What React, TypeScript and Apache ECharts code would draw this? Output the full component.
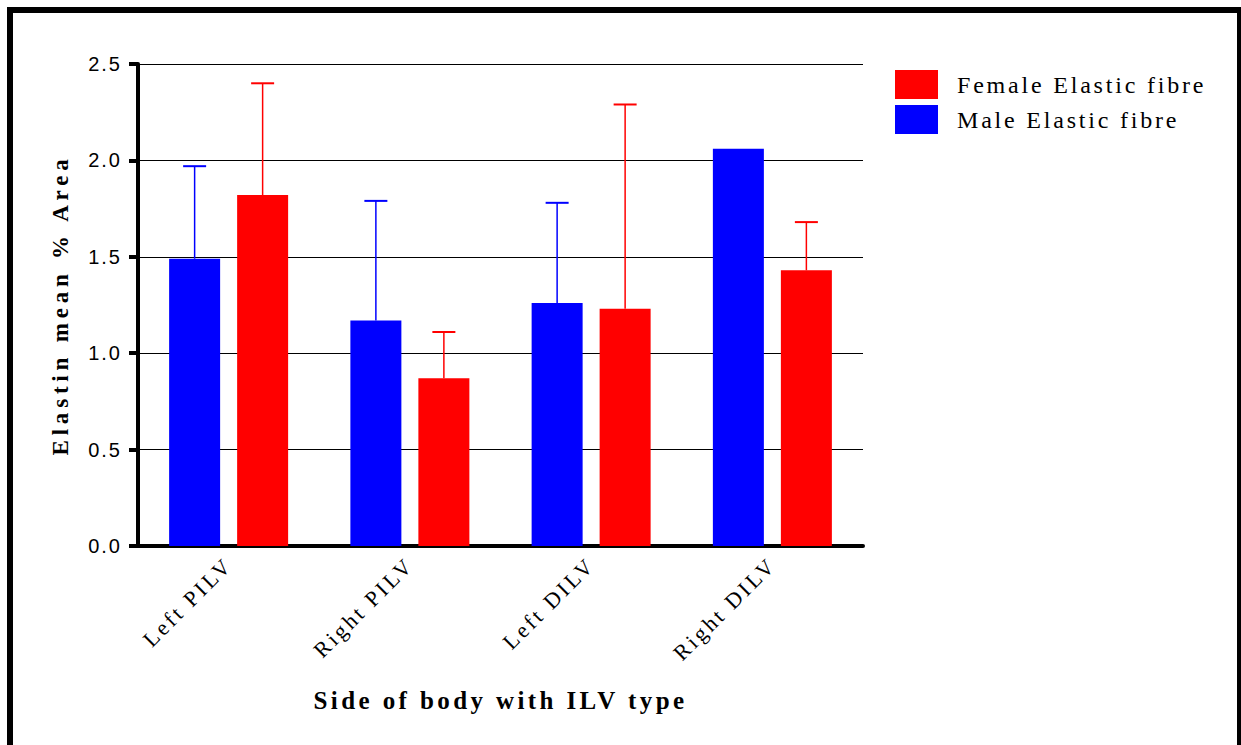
import React, { useEffect, useRef } from "react";
import * as echarts from "echarts";

const categories = ["Left PILV", "Right PILV", "Left DILV", "Right DILV"];
const maleMean = [1.49, 1.17, 1.26, 2.06];
const maleUpper: (number | null)[] = [1.97, 1.79, 1.78, null];
const femaleMean = [1.82, 0.87, 1.23, 1.43];
const femaleUpper: (number | null)[] = [2.4, 1.11, 2.29, 1.68];
const yTicks = { min: 0, max: 2.5, interval: 0.5 };
const legendNames = ["Female Elastic fibre", "Male Elastic fibre"];

const BLUE = "#0000ff";
const RED = "#ff0000";
const BAR_W = 51;
const BAR_GAP_PX = 17;
const OFFSET = (BAR_W + BAR_GAP_PX) / 2;

const css = `
#chart text[style*="20px"] { letter-spacing: 2px; }
#chart text[style*="22px"] { letter-spacing: 3px; }
#chart text[style*="23px"] { letter-spacing: 4.8px; }
#chart text[style*="24px"] { letter-spacing: 2.8px; }
#chart text[style*="25px"] { letter-spacing: 3.4px; }
`;

function errSeries(means: number[], uppers: (number | null)[], sign: number, color: string) {
  const data: number[][] = [];
  means.forEach((m, i) => {
    const u = uppers[i];
    if (u != null) data.push([i, m, u]);
  });
  return {
    type: "custom",
    name: "err" + color,
    z: 5,
    encode: { x: 0, y: [1, 2] },
    renderItem: (params: any, api: any) => {
      const cat = api.value(0);
      const base = api.coord([cat, api.value(1)]);
      const top = api.coord([cat, api.value(2)]);
      const x = base[0] + sign * OFFSET;
      return {
        type: "group",
        children: [
          { type: "line", shape: { x1: x, y1: base[1], x2: x, y2: top[1] }, style: { stroke: color, lineWidth: 1.5 } },
          { type: "line", shape: { x1: x - 11.5, y1: top[1], x2: x + 11.5, y2: top[1] }, style: { stroke: color, lineWidth: 2 } },
        ],
      };
    },
    data,
  };
}

export default function App() {
  const ref = useRef<HTMLDivElement>(null);
  useEffect(() => {
    if (!ref.current) return;
    const chart = echarts.init(ref.current, null, { renderer: "svg" });
    chart.setOption({
      animation: false,
      backgroundColor: "#ffffff",
      graphic: [
        {
          type: "rect",
          shape: { x: 10, y: 10, width: 1230, height: 800 },
          style: { fill: "none", stroke: "#000", lineWidth: 6 },
          z: 100,
        },
      ],
      legend: {
        data: legendNames,
        orient: "vertical",
        left: 895,
        top: 70,
        padding: 0,
        itemWidth: 43,
        itemHeight: 29,
        itemGap: 6,
        icon: "rect",
        textStyle: { fontFamily: "Liberation Serif", fontSize: 24, color: "#000", padding: [0, 0, 0, 14] },
      },
      grid: { left: 138, right: 378, top: 64, bottom: 199, containLabel: false },
      xAxis: {
        type: "category",
        data: categories,
        name: "Side of body with ILV type",
        nameLocation: "middle",
        nameGap: 142,
        nameTextStyle: { fontFamily: "Liberation Serif", fontWeight: "bold", fontSize: 25, color: "#000" },
        axisLine: { lineStyle: { color: "#000", width: 4 } },
        axisTick: { alignWithLabel: true, length: 9, lineStyle: { color: "#000", width: 4 } },
        axisLabel: { rotate: 45, fontFamily: "Liberation Serif", fontSize: 22, color: "#000", margin: 15 },
      },
      yAxis: {
        type: "value",
        min: yTicks.min,
        max: yTicks.max,
        interval: yTicks.interval,
        name: "Elastin mean % Area",
        nameLocation: "middle",
        nameGap: 66,
        nameTextStyle: { fontFamily: "Liberation Serif", fontWeight: "bold", fontSize: 23, color: "#000" },
        axisLine: { show: true, lineStyle: { color: "#000", width: 4 } },
        axisTick: { show: true, length: 9, lineStyle: { color: "#000", width: 4 } },
        axisLabel: {
          fontFamily: "Liberation Sans",
          fontSize: 20,
          color: "#000",
          margin: 16,
          formatter: (v: number) => v.toFixed(1),
        },
        splitLine: { show: true, lineStyle: { color: "#000", width: 1 } },
      },
      series: [
        {
          type: "bar",
          name: legendNames[1],
          data: maleMean,
          barWidth: BAR_W,
          barGap: (BAR_GAP_PX / BAR_W) * 100 + "%",
          itemStyle: { color: BLUE },
        },
        {
          type: "bar",
          name: legendNames[0],
          data: femaleMean,
          barWidth: BAR_W,
          barGap: (BAR_GAP_PX / BAR_W) * 100 + "%",
          itemStyle: { color: RED },
        },
        errSeries(maleMean, maleUpper, -1, BLUE),
        errSeries(femaleMean, femaleUpper, 1, RED),
      ],
    });
    return () => chart.dispose();
  }, []);
  return (
    <>
      <style>{css}</style>
      <div id="chart" ref={ref} style={{ position: "fixed", left: 0, top: 0, width: 1241, height: 745, background: "#fff" }} />
    </>
  );
}
